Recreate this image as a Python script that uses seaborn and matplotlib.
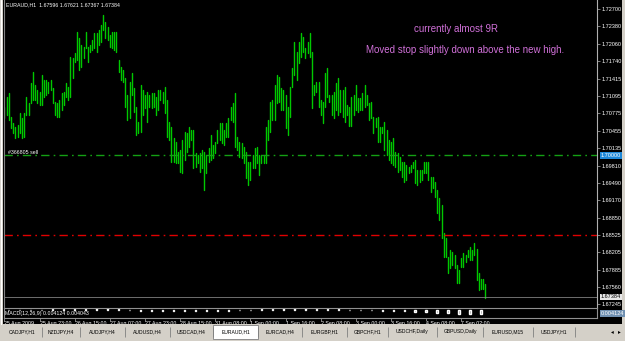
import matplotlib
matplotlib.use("Agg")
import matplotlib.pyplot as plt
import matplotlib.transforms as mtransforms
from matplotlib.lines import Line2D
from matplotlib.patches import Rectangle
import numpy as np
import pandas as pd
import seaborn as sns

# ---------------- data ----------------
header = "EURAUD,H1  1.67596 1.67621 1.67367 1.67384"

highs = [
    1.7089, 1.7108, 1.7115, 1.7071, 1.7060, 1.7052, 1.7056, 1.7078, 1.7069, 1.7078,
    1.7108, 1.7097, 1.7133, 1.7154, 1.7130, 1.7121, 1.7117, 1.7148, 1.7139, 1.7139,
    1.7135, 1.7139, 1.7124, 1.7098, 1.7097, 1.7102, 1.7115, 1.7117, 1.7133, 1.7126,
    1.7181, 1.7180, 1.7189, 1.7228, 1.7217, 1.7204, 1.7200, 1.7228, 1.7200, 1.7204,
    1.7213, 1.7226, 1.7226, 1.7231, 1.7240, 1.7259, 1.7246, 1.7237, 1.7222, 1.7228,
    1.7228, 1.7228, 1.7176, 1.7163, 1.7157, 1.7143, 1.7111, 1.7135, 1.7152, 1.7124,
    1.7089, 1.7061, 1.7130, 1.7121, 1.7111, 1.7117, 1.7111, 1.7115, 1.7115, 1.7108,
    1.7121, 1.7121, 1.7117, 1.7126, 1.7102, 1.7061, 1.7052, 1.7032, 1.7025, 1.7006,
    1.7010, 1.7028, 1.7043, 1.7041, 1.7052, 1.7047, 1.7047, 1.7004, 1.7000, 1.7004,
    1.7010, 1.7006, 1.7000, 1.7013, 1.7037, 1.7019, 1.7025, 1.7047, 1.7060, 1.7060,
    1.7047, 1.7060, 1.7069, 1.7089, 1.7097, 1.7115, 1.7034, 1.7025, 1.7023, 1.7015,
    1.7006, 1.6988, 1.6988, 1.7000, 1.7013, 1.7015, 1.7000, 1.7000, 1.7000, 1.7052,
    1.7065, 1.7098, 1.7102, 1.7130, 1.7148, 1.7144, 1.7124, 1.7121, 1.7111, 1.7089,
    1.7126, 1.7161, 1.7209, 1.7191, 1.7209, 1.7226, 1.7218, 1.7198, 1.7209, 1.7226,
    1.7191, 1.7130, 1.7135, 1.7135, 1.7102, 1.7098, 1.7152, 1.7161, 1.7111, 1.7111,
    1.7117, 1.7133, 1.7143, 1.7121, 1.7121, 1.7126, 1.7093, 1.7089, 1.7108, 1.7111,
    1.7130, 1.7106, 1.7106, 1.7115, 1.7130, 1.7111, 1.7097, 1.7098, 1.7071, 1.7069,
    1.7071, 1.7052, 1.7052, 1.7061, 1.7047, 1.7028, 1.7025, 1.7032, 1.7006, 1.7004,
    1.6997, 1.6988, 1.6988, 1.6982, 1.6978, 1.6982, 1.6988, 1.6991, 1.6973, 1.6973,
    1.6973, 1.6988, 1.6988, 1.6988, 1.6960, 1.6960, 1.6951, 1.6936, 1.6921, 1.6908,
    1.6856, 1.6847, 1.6812, 1.6825, 1.6821, 1.6816, 1.6797, 1.6788, 1.6810, 1.6819,
    1.6816, 1.6825, 1.6830, 1.6825, 1.6838, 1.6827, 1.6782, 1.6771, 1.6771, 1.6762,
]

lows = [
    1.7069, 1.7074, 1.7065, 1.7050, 1.7041, 1.7032, 1.7034, 1.7041, 1.7032, 1.7034,
    1.7074, 1.7074, 1.7097, 1.7102, 1.7102, 1.7097, 1.7093, 1.7093, 1.7108, 1.7111,
    1.7115, 1.7121, 1.7097, 1.7074, 1.7071, 1.7071, 1.7084, 1.7093, 1.7108, 1.7102,
    1.7108, 1.7143, 1.7172, 1.7176, 1.7157, 1.7163, 1.7180, 1.7198, 1.7172, 1.7191,
    1.7194, 1.7198, 1.7191, 1.7204, 1.7209, 1.7231, 1.7217, 1.7213, 1.7200, 1.7198,
    1.7194, 1.7191, 1.7154, 1.7139, 1.7135, 1.7089, 1.7065, 1.7069, 1.7111, 1.7080,
    1.7037, 1.7041, 1.7043, 1.7074, 1.7087, 1.7061, 1.7089, 1.7087, 1.7089, 1.7074,
    1.7084, 1.7102, 1.7097, 1.7078, 1.7034, 1.7028, 1.6988, 1.6988, 1.6986, 1.6986,
    1.6969, 1.6967, 1.6991, 1.7006, 1.7015, 1.7028, 1.6976, 1.6978, 1.6986, 1.6969,
    1.6976, 1.6936, 1.6967, 1.6988, 1.6991, 1.6995, 1.7004, 1.7023, 1.7028, 1.7023,
    1.7019, 1.7034, 1.7034, 1.7065, 1.7061, 1.7015, 1.7010, 1.6997, 1.6995, 1.6986,
    1.6958, 1.6945, 1.6954, 1.6976, 1.6976, 1.6986, 1.6964, 1.6986, 1.6986, 1.6986,
    1.7028, 1.7043, 1.7065, 1.7065, 1.7097, 1.7098, 1.7084, 1.7084, 1.7050, 1.7037,
    1.7071, 1.7126, 1.7148, 1.7139, 1.7170, 1.7181, 1.7191, 1.7180, 1.7189, 1.7181,
    1.7087, 1.7111, 1.7117, 1.7089, 1.7074, 1.7060, 1.7089, 1.7108, 1.7098, 1.7074,
    1.7069, 1.7084, 1.7074, 1.7080, 1.7071, 1.7061, 1.7074, 1.7054, 1.7054, 1.7074,
    1.7084, 1.7080, 1.7084, 1.7084, 1.7089, 1.7093, 1.7065, 1.7069, 1.7041, 1.7052,
    1.7025, 1.7025, 1.7041, 1.7010, 1.7000, 1.6991, 1.6986, 1.6982, 1.6978, 1.6969,
    1.6973, 1.6960, 1.6951, 1.6954, 1.6967, 1.6969, 1.6976, 1.6949, 1.6945, 1.6951,
    1.6954, 1.6967, 1.6967, 1.6954, 1.6932, 1.6939, 1.6923, 1.6893, 1.6880, 1.6847,
    1.6812, 1.6812, 1.6783, 1.6792, 1.6797, 1.6792, 1.6764, 1.6764, 1.6794, 1.6794,
    1.6803, 1.6812, 1.6807, 1.6807, 1.6816, 1.6770, 1.6751, 1.6753, 1.6753, 1.6737,
]

price_ticks = [1.72700, 1.72380, 1.72060, 1.71740, 1.71415, 1.71095, 1.70775,
               1.70455, 1.70135, 1.69810, 1.69490, 1.69170, 1.68850, 1.68525,
               1.68205, 1.67885, 1.67560, 1.67245]
price_tick_labels = ["1.72700", "1.72380", "1.72060", "1.71740", "1.71415", "1.71095",
                     "1.70775", "1.70455", "1.70135", "1.69810", "1.69490", "1.69170",
                     "1.68850", "1.68525", "1.68205", "1.67885", "1.67560", "1.67245"]

time_label_bars = [0, 16, 32, 48, 64, 80, 96, 112, 128, 144, 160, 176, 192, 208]
time_labels = ["25 Aug 2009", "25 Aug 23:00", "26 Aug 15:00", "27 Aug 07:00",
               "27 Aug 23:00", "28 Aug 15:00", "31 Aug 08:00", "1 Sep 00:00",
               "1 Sep 16:00", "2 Sep 08:00", "3 Sep 00:00", "3 Sep 16:00",
               "4 Sep 08:00", "7 Sep 02:00"]

# MACD histogram, one value per 5 bars
macd_hist = [-0.0004, -0.0003, -0.0002, 0.0003, 0.0006, 0.0009, 0.0012, 0.0014,
             0.0016, 0.0015, 0.0008, -0.0002, -0.0008, -0.0010, -0.0009, -0.0012,
             -0.0016, -0.0018, -0.0017, -0.0014, -0.0010, -0.0006, -0.0002, 0.0005,
             0.0010, 0.0015, 0.0018, 0.0016, 0.0012, 0.0008, 0.0004, 0.0002,
             -0.0002, -0.0006, -0.0010, -0.0014, -0.0017, -0.0019, -0.0024, -0.0032,
             -0.0040, -0.0044, -0.0043, -0.0041]
macd_label = "MACD(12,26,9) 0.004124 0.004043"
macd_value_label = "0.004124"

order_price = 1.70000
order_label = "#366805 sell"
stop_price = 1.68525
bid_price = 1.67384

note1 = "currently almost 9R"
note2 = "Moved stop slightly down above the new high."

tabs = ["CADJPY,H1", "NZDJPY,H4", "AUDJPY,H4", "AUDUSD,H4", "USDCAD,H4", "EURAUD,H1",
        "EURCAD,H4", "EURGBP,H1", "GBPCHF,H1", "USDCHF,Daily", "GBPUSD,Daily",
        "EURUSD,M15", "USDJPY,H1"]
active_tab = "EURAUD,H1"

# ---------------- style ----------------
sns.set_style("dark", {"axes.facecolor": "black", "figure.facecolor": "#D4D0C8"})
plt.rcParams["font.family"] = ["Liberation Sans", "DejaVu Sans"]

W, H = 625, 341
fig = plt.figure(figsize=(W / 100, H / 100), dpi=100, facecolor="#D4D0C8")


def box(x0, y0, x1, y1):
    return [x0 / W, 1 - y1 / H, (x1 - x0) / W, (y1 - y0) / H]


def clean(a):
    a.set_xticks([])
    a.set_yticks([])
    for s in a.spines.values():
        s.set_visible(False)


bg = fig.add_axes(box(3, 0, 622, 324))
bg.set_facecolor("black")
clean(bg)

fig.add_artist(Line2D([1.5 / W, 1.5 / W], [1 - 324 / H, 1], color="white", lw=0.8,
                      transform=fig.transFigure))

# layout positions (pixels)
XMIN, XMAX = -0.2, 269.8
tab_seps = [3, 42, 80, 125, 170, 213, 258, 302, 347, 388, 437, 483, 533, 575]

bar_color = "#00C800"
violet = "#D070D8"

# ---------------- main price chart ----------------
ax = fig.add_axes(box(4, 0, 597, 308))
ax.set_facecolor("black")
n = len(highs)
df = pd.DataFrame({
    "bar": np.repeat(np.arange(n), 2),
    "price": np.column_stack([lows, highs]).ravel(),
})
sns.lineplot(data=df, x="bar", y="price", units="bar", estimator=None, sort=False,
             color=bar_color, linewidth=1.0, ax=ax, legend=False)
ax.set_xlim(XMIN, XMAX)
ax.set_ylim(1.67180, 1.72866)
ax.set_xlabel("")
ax.set_ylabel("")
ax.grid(False)
ax.yaxis.tick_right()
ax.set_yticks(price_ticks)
ax.set_yticklabels(price_tick_labels)
ax.tick_params(axis="y", right=True, labelright=True, left=False, labelleft=False,
               labelcolor="white", labelsize=4, length=2, width=0.5, pad=1,
               color="#B0B0B0")
ax.tick_params(axis="x", bottom=False, labelbottom=False)
for side in ("top", "bottom"):
    ax.spines[side].set_visible(False)
ax.spines["right"].set_color("#B0B0B0")
ax.spines["right"].set_linewidth(0.8)
ax.spines["left"].set_color("#808080")
ax.spines["left"].set_linewidth(0.8)

dashdot = (0, (6, 3, 1.2, 3))
ax.axhline(order_price, color="#14A014", lw=1.0, ls=dashdot)
ax.axhline(stop_price, color="#E00000", lw=1.0, ls=dashdot)
ax.axhline(bid_price, color="#808080", lw=0.6)

trans = mtransforms.blended_transform_factory(ax.transAxes, ax.transData)
ax.text(4 / 593, order_price, order_label, transform=trans, ha="left", va="bottom",
        fontsize=3.8, color="white")
ax.text(1.006, order_price, "1.70000", transform=trans, ha="left", va="center",
        fontsize=4, color="white", clip_on=False,
        bbox=dict(boxstyle="square,pad=0.15", fc="#1E88D8", ec="none"))
ax.text(1.006, bid_price, "1.67384", transform=trans, ha="left", va="center",
        fontsize=4, color="black", clip_on=False,
        bbox=dict(boxstyle="square,pad=0.15", fc="#E8E8E8", ec="none"))

fig.text(6 / W, 1 - 5 / H, header, fontsize=3.8, color="white", ha="left", va="center")
fig.text(456 / W, 1 - 29 / H, note1, fontsize=7, color=violet, ha="center", va="center")
fig.text(465 / W, 1 - 50 / H, note2, fontsize=7, color=violet, ha="center", va="center")

# ---------------- MACD sub window ----------------
mx = fig.add_axes(box(4, 308, 597, 318))
mx.set_facecolor("black")
mx.bar(np.arange(len(macd_hist)) * 5 + 2, macd_hist, width=0.6, color="#8C8C8C")
mx.set_xlim(XMIN, XMAX)
mx.set_ylim(-0.0090, 0.0020)
mx.grid(False)
mx.set_yticks([])
mx.set_xticks(time_label_bars)
mx.set_xticklabels(time_labels, ha="left")
mx.tick_params(axis="x", bottom=True, labelbottom=True, labelcolor="white",
               labelsize=3.8, length=2, width=0.5, pad=0.5, color="#B0B0B0")
for s in mx.spines.values():
    s.set_color("#909090")
    s.set_linewidth(0.8)
mx.text(0.002, 0.45, macd_label, transform=mx.transAxes, fontsize=3.8, color="white",
        ha="left", va="center")
mx.text(1.006, 0.45, macd_value_label, transform=mx.transAxes, ha="left", va="center",
        fontsize=4, color="white", clip_on=False,
        bbox=dict(boxstyle="square,pad=0.15", fc="#6F8FB0", ec="none"))

# ---------------- symbol tabs ----------------
tb = fig.add_axes(box(0, 324, 622, 341))
tb.set_facecolor("#D4D0C8")
clean(tb)
tb.set_xlim(0, 622)
tb.set_ylim(341, 324)
tab_edges = tab_seps
for i, name in enumerate(tabs):
    x0, x1 = tab_edges[i], tab_edges[i + 1]
    if name == active_tab:
        tb.add_patch(Rectangle((x0, 324.5), x1 - x0, 14, fc="white", ec="#808080", lw=0.6))
    tb.text((x0 + x1) / 2, 332, name, fontsize=3.6, color="black", ha="center", va="center")
tb.vlines([e for e in tab_edges[1:]], 327, 337, color="#808080", lw=0.6)
tb.text(612, 332, "\u25c2", fontsize=4, color="black", ha="center", va="center",
        family="DejaVu Sans")
tb.text(619, 332, "\u25b8", fontsize=4, color="black", ha="center", va="center",
        family="DejaVu Sans")

fig.savefig("out.png", dpi=100, facecolor=fig.get_facecolor())
